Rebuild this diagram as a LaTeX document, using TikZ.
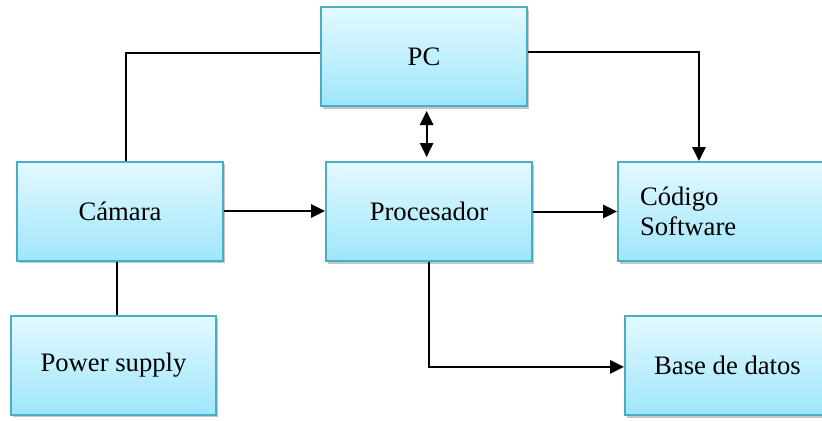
\documentclass[tikz,border=0pt]{standalone}
\usepackage{fontspec}
\setmainfont{Liberation Serif}
\usetikzlibrary{arrows.meta,shadows}
\definecolor{boxtop}{HTML}{E3F9FF}
\definecolor{boxbot}{HTML}{9FE6FB}
\definecolor{boxline}{HTML}{4BACC6}
\tikzset{
  blk/.style={draw=boxline, line width=1.5pt, top color=boxtop, bottom color=boxbot,
    minimum width=154.5pt, minimum height=74.25pt, inner sep=0pt,
    font=\fontsize{20}{22.5}\selectfont,
    drop shadow={shadow xshift=1.2pt, shadow yshift=-2.2pt, fill=black, opacity=0.22}},
  conn/.style={line width=1.5pt, draw=black},
  arr/.style={conn, -{Triangle[length=10.5pt,width=10pt]}},
  dbl/.style={conn, {Triangle[length=10.5pt,width=10pt]}-{Triangle[length=10.5pt,width=10pt]}},
}
\begin{document}
\begin{tikzpicture}[x=0.75pt,y=-0.75pt]
\useasboundingbox (0,0) rectangle (822,421);
\clip (0,0) rectangle (822,421);
\fill[white] (0,0) rectangle (822,421);
\node[blk] (pc) at (424,56.5) {PC};
\node[blk] (cam) at (120,211) {Cámara};
\node[blk] (proc) at (429,211.5) {Procesador};
\node[blk, minimum width=159pt, text width=126pt, align=left] (code) at (724,211.5) {Código\\Software};
\node[blk, minimum width=153.75pt] (db) at (727.5,365.5) {Base de datos};
\node[blk, minimum width=153.75pt] (ps) at (113.5,365) {Power supply};
% connectors
\draw[conn] ([xshift=4.5pt]cam.north) |- ([yshift=3pt]pc.west);
\draw[arr] ([yshift=3.5pt]pc.east) -| ([xshift=-18.75pt]code.north);
\draw[arr] (cam.east) -- (cam.east -| proc.west);
\draw[arr] (proc.east) -- (code.west);
\draw[arr] (proc.south) |- ([yshift=-1pt]db.west);
\draw[conn] ([xshift=-2.5pt]cam.south) -- ([xshift=-2.5pt]cam.south |- ps.north);
\draw[dbl, shorten <=3pt, shorten >=3pt] ([xshift=2pt]pc.south) -- ([xshift=2pt]pc.south |- proc.north);
\end{tikzpicture}
\end{document}
